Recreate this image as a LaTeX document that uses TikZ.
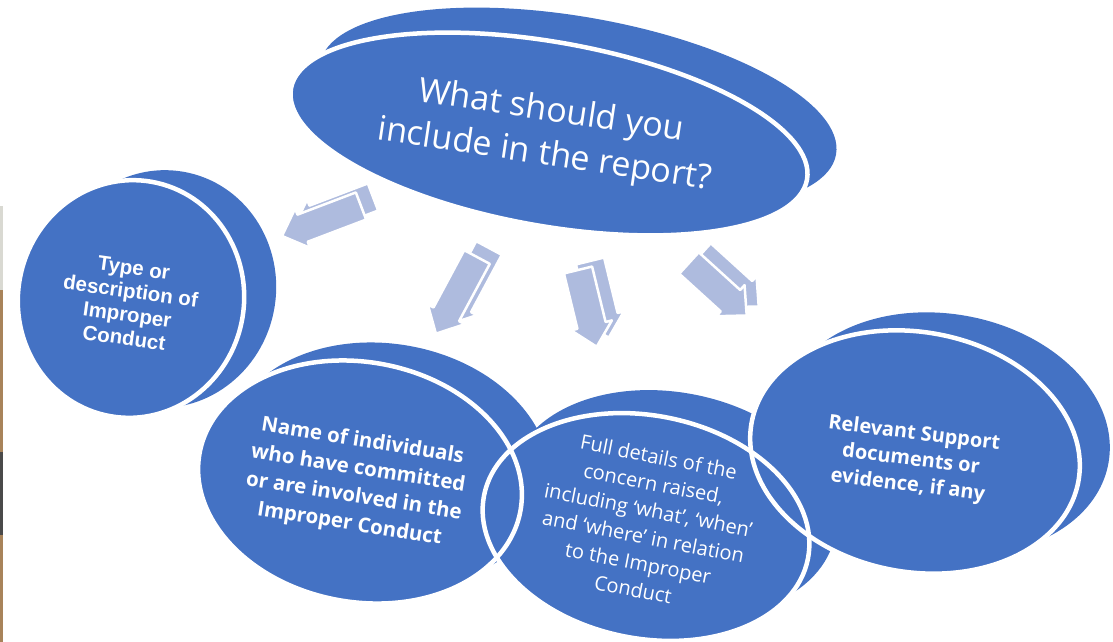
\documentclass[tikz,border=0pt]{standalone}
\usepackage{fontspec}
\setmainfont{Open Sans}
\newfontfamily\arialfont{Liberation Sans}
\usepackage{xcolor}
\usepackage{tikz}
\usetikzlibrary{shapes.geometric}

\definecolor{discblue}{HTML}{4472C4}
\definecolor{arrowblue}{HTML}{AEBBDE}
\definecolor{photogray}{HTML}{D9D9D2}
\definecolor{phototan}{HTML}{A8835A}
\definecolor{photodark}{HTML}{4A4A4A}

% 3D block arrow: tail point, direction, length
\newcommand{\blockarrow}[3]{%
  \begin{scope}[shift={(#1)}]
    \filldraw[arrowface, shift={(12,-9)}, rotate=#2]
      (0,-14.5) -- (#3-22,-14.5) -- (#3-22,-21) -- (#3,0)
      -- (#3-22,21) -- (#3-22,14.5) -- (0,14.5) -- cycle;
    \filldraw[arrowface, rotate=#2]
      (0,-14.5) -- (#3-22,-14.5) -- (#3-22,-21) -- (#3,0)
      -- (#3-22,21) -- (#3-22,14.5) -- (0,14.5) -- cycle;
  \end{scope}}

\begin{document}
\begin{tikzpicture}[
    x=1pt, y=-1pt,
    disc/.style={ellipse, fill=discblue, inner sep=0pt},
    rim/.style={ellipse, draw=white, line width=4.5pt, inner sep=0pt},
    arrowface/.style={fill=arrowblue, draw=white, line width=2.5pt, line join=round},
    words/.style={text=white, align=center, inner sep=0pt}
]
\useasboundingbox (0,0) rectangle (1113,642);

% photo edge on the left
\fill[photogray] (0,206) rectangle (3,290);
\fill[phototan] (0,290) rectangle (3,452);
\fill[photodark] (0,452) rectangle (3,535);
\fill[phototan] (0,535) rectangle (3,642);

% Back discs
\node[disc, minimum width=524pt, minimum height=184pt, rotate=-10] (mainback) at (578,109) {};
\node[disc, minimum width=226pt, minimum height=238pt, rotate=-10] (typeback) at (163,289) {};
\node[disc, minimum width=326pt, minimum height=240pt, rotate=-10] (nameback) at (388,464) {};
\node[disc, minimum width=330pt, minimum height=223pt, rotate=-11] (detailback) at (673,504) {};
\node[disc, minimum width=332pt, minimum height=240pt, rotate=-10] (supportback) at (945,434) {};

% Front discs
\node[disc, minimum width=524pt, minimum height=184pt, rotate=-10] (main) at (549,134) {};
\node[disc, minimum width=226pt, minimum height=238pt, rotate=-10] (type) at (131,299) {};
\node[disc, minimum width=326pt, minimum height=240pt, rotate=-10] (name) at (360,482) {};
\node[disc, minimum width=330pt, minimum height=223pt, rotate=-11] (detail) at (646,527) {};
\node[disc, minimum width=332pt, minimum height=240pt, rotate=-10] (support) at (915,452) {};

% White rims
\node[rim, minimum width=524pt, minimum height=184pt, rotate=-10] (mainrim) at (main.center) {};
\node[rim, minimum width=226pt, minimum height=238pt, rotate=-10] (typerim) at (type.center) {};
\node[rim, minimum width=326pt, minimum height=240pt, rotate=-10] (namerim) at (name.center) {};
\node[rim, minimum width=330pt, minimum height=223pt, rotate=-11] (detailrim) at (detail.center) {};
\node[rim, minimum width=332pt, minimum height=240pt, rotate=-10] (supportrim) at (support.center) {};

% Arrows
\coordinate (tailtype) at (361,206);
\coordinate (tailname) at (477,257);
\coordinate (taildetail) at (578,270);
\coordinate (tailsupport) at (689,263);
\blockarrow{tailtype}{200.8}{84.5}
\blockarrow{tailname}{241.8}{87}
\blockarrow{taildetail}{-76.3}{79}
\blockarrow{tailsupport}{-42.3}{78}

% Texts
\node[words, rotate=-8.5, font=\fontsize{34}{44}\selectfont] (maintext) at (548,134)
  {What should you\\include in the report?};
\node[words, rotate=-8, font=\arialfont\bfseries\fontsize{20.5}{23.5}\selectfont] (typetext) at (129,303)
  {Type or\\description of\\Improper\\Conduct};
\node[words, rotate=-9, font=\bfseries\fontsize{20.5}{28}\selectfont] (nametext) at (356,483)
  {Name of individuals\\who have committed\\or are involved in the\\Improper Conduct};
\node[words, rotate=-11, font=\fontsize{20}{27}\selectfont] (detailtext) at (646,523)
  {Full details of the\\concern raised,\\including ‘what’, ‘when’\\and ‘where’ in relation\\to the Improper\\Conduct};
\node[words, rotate=-7, font=\bfseries\fontsize{20}{26}\selectfont] (supporttext) at (911,460)
  {Relevant Support\\documents or\\evidence, if any};

\end{tikzpicture}
\end{document}
